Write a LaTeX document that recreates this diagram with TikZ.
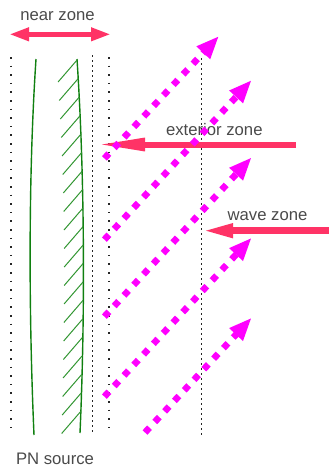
\documentclass[tikz,border=0pt]{standalone}
\usepackage{fontspec}
\setmainfont{Liberation Sans}
\usetikzlibrary{arrows.meta}
\definecolor{pinkred}{RGB}{255,51,102}
\definecolor{wavemag}{RGB}{255,0,255}
\definecolor{txtgray}{RGB}{74,74,74}
\definecolor{srcgreen}{RGB}{16,128,16}
\definecolor{hatchgreen}{RGB}{50,150,50}
\tikzset{
  lbl/.style={text=txtgray,font=\fontsize{16.7}{20}\selectfont,anchor=base,inner sep=0pt},
  sparsedots/.style={black!85,line width=1.6pt,dash pattern=on 1.6pt off 7pt},
  densedots/.style={black!85,line width=1.5pt,dash pattern=on 1.5pt off 3.5pt},
  srcline/.style={srcgreen,line width=1.4pt},
  hatchline/.style={hatchgreen,line width=1pt},
  zonearrow/.style={pinkred,line width=#1},
  wavearrow/.style={wavemag,line width=6.6pt,dash pattern=on 6.6pt off 7.8pt,
    -{Triangle[length=23pt,width=17pt]}},
}
\begin{document}
\begin{tikzpicture}[x=1pt,y=-1pt]
\useasboundingbox (0,0) rectangle (329,467);
% labels
\node[lbl] (near) at (57.5,20.7) {near zone};
\node[lbl] (ext) at (214.3,135) {exterior zone};
\node[lbl] (wave) at (267.5,220) {wave zone};
\node[lbl] (src) at (55,464.6) {PN source};
% dotted zone boundaries
\draw[sparsedots] (11,57) -- (11,429);
\draw[sparsedots] (109,57) -- (109,429);
\draw[densedots] (92.5,55) -- (92.5,434);
\draw[densedots] (201.5,58) -- (201.5,438);
% source lines
\draw[srcline] (36,59) .. controls (28,180) and (29,320) .. (34,435);
\draw[srcline] (77,59) .. controls (85,180) and (85,320) .. (80,433);
\foreach \i in {0,...,19}{
  \pgfmathsetmacro\yt{60+18.5*\i}
  \pgfmathsetmacro\xt{(\yt<240) ? (83.2-6.2*((240-\yt)/181)^2) : (83.2-3.2*((\yt-240)/193)^2)}
  \draw[hatchline] (\xt,\yt) -- ++(-19,22);
}
% zone arrows
\draw[zonearrow=5.5pt,{Triangle[length=20pt,width=12.5pt]}-{Triangle[length=20pt,width=12.5pt]}] (9,34.3) -- (111,34.3);
\coordinate (extstart) at (296,144.5);
\coordinate (extend) at (96,144.5);
\draw[zonearrow=6pt,-{Triangle[length=49pt,width=12pt]}] (extstart) -- (extend);
\coordinate (wavestart) at (329,230.7);
\coordinate (waveend) at (202,230.7);
\draw[zonearrow=6.5pt,-{Triangle[length=31pt,width=13pt]}] (wavestart) -- (waveend);
% waves
\draw[wavearrow] (104.4,158.4) -- (219,36);
\draw[wavearrow] (104.4,239.6) -- (251.7,80);
\draw[wavearrow] (104.4,316.6) -- (251.7,157.3);
\draw[wavearrow] (104.4,396.6) -- (251.7,237.7);
\draw[wavearrow] (145,432.5) -- (251.7,317.7);
\end{tikzpicture}
\end{document}
